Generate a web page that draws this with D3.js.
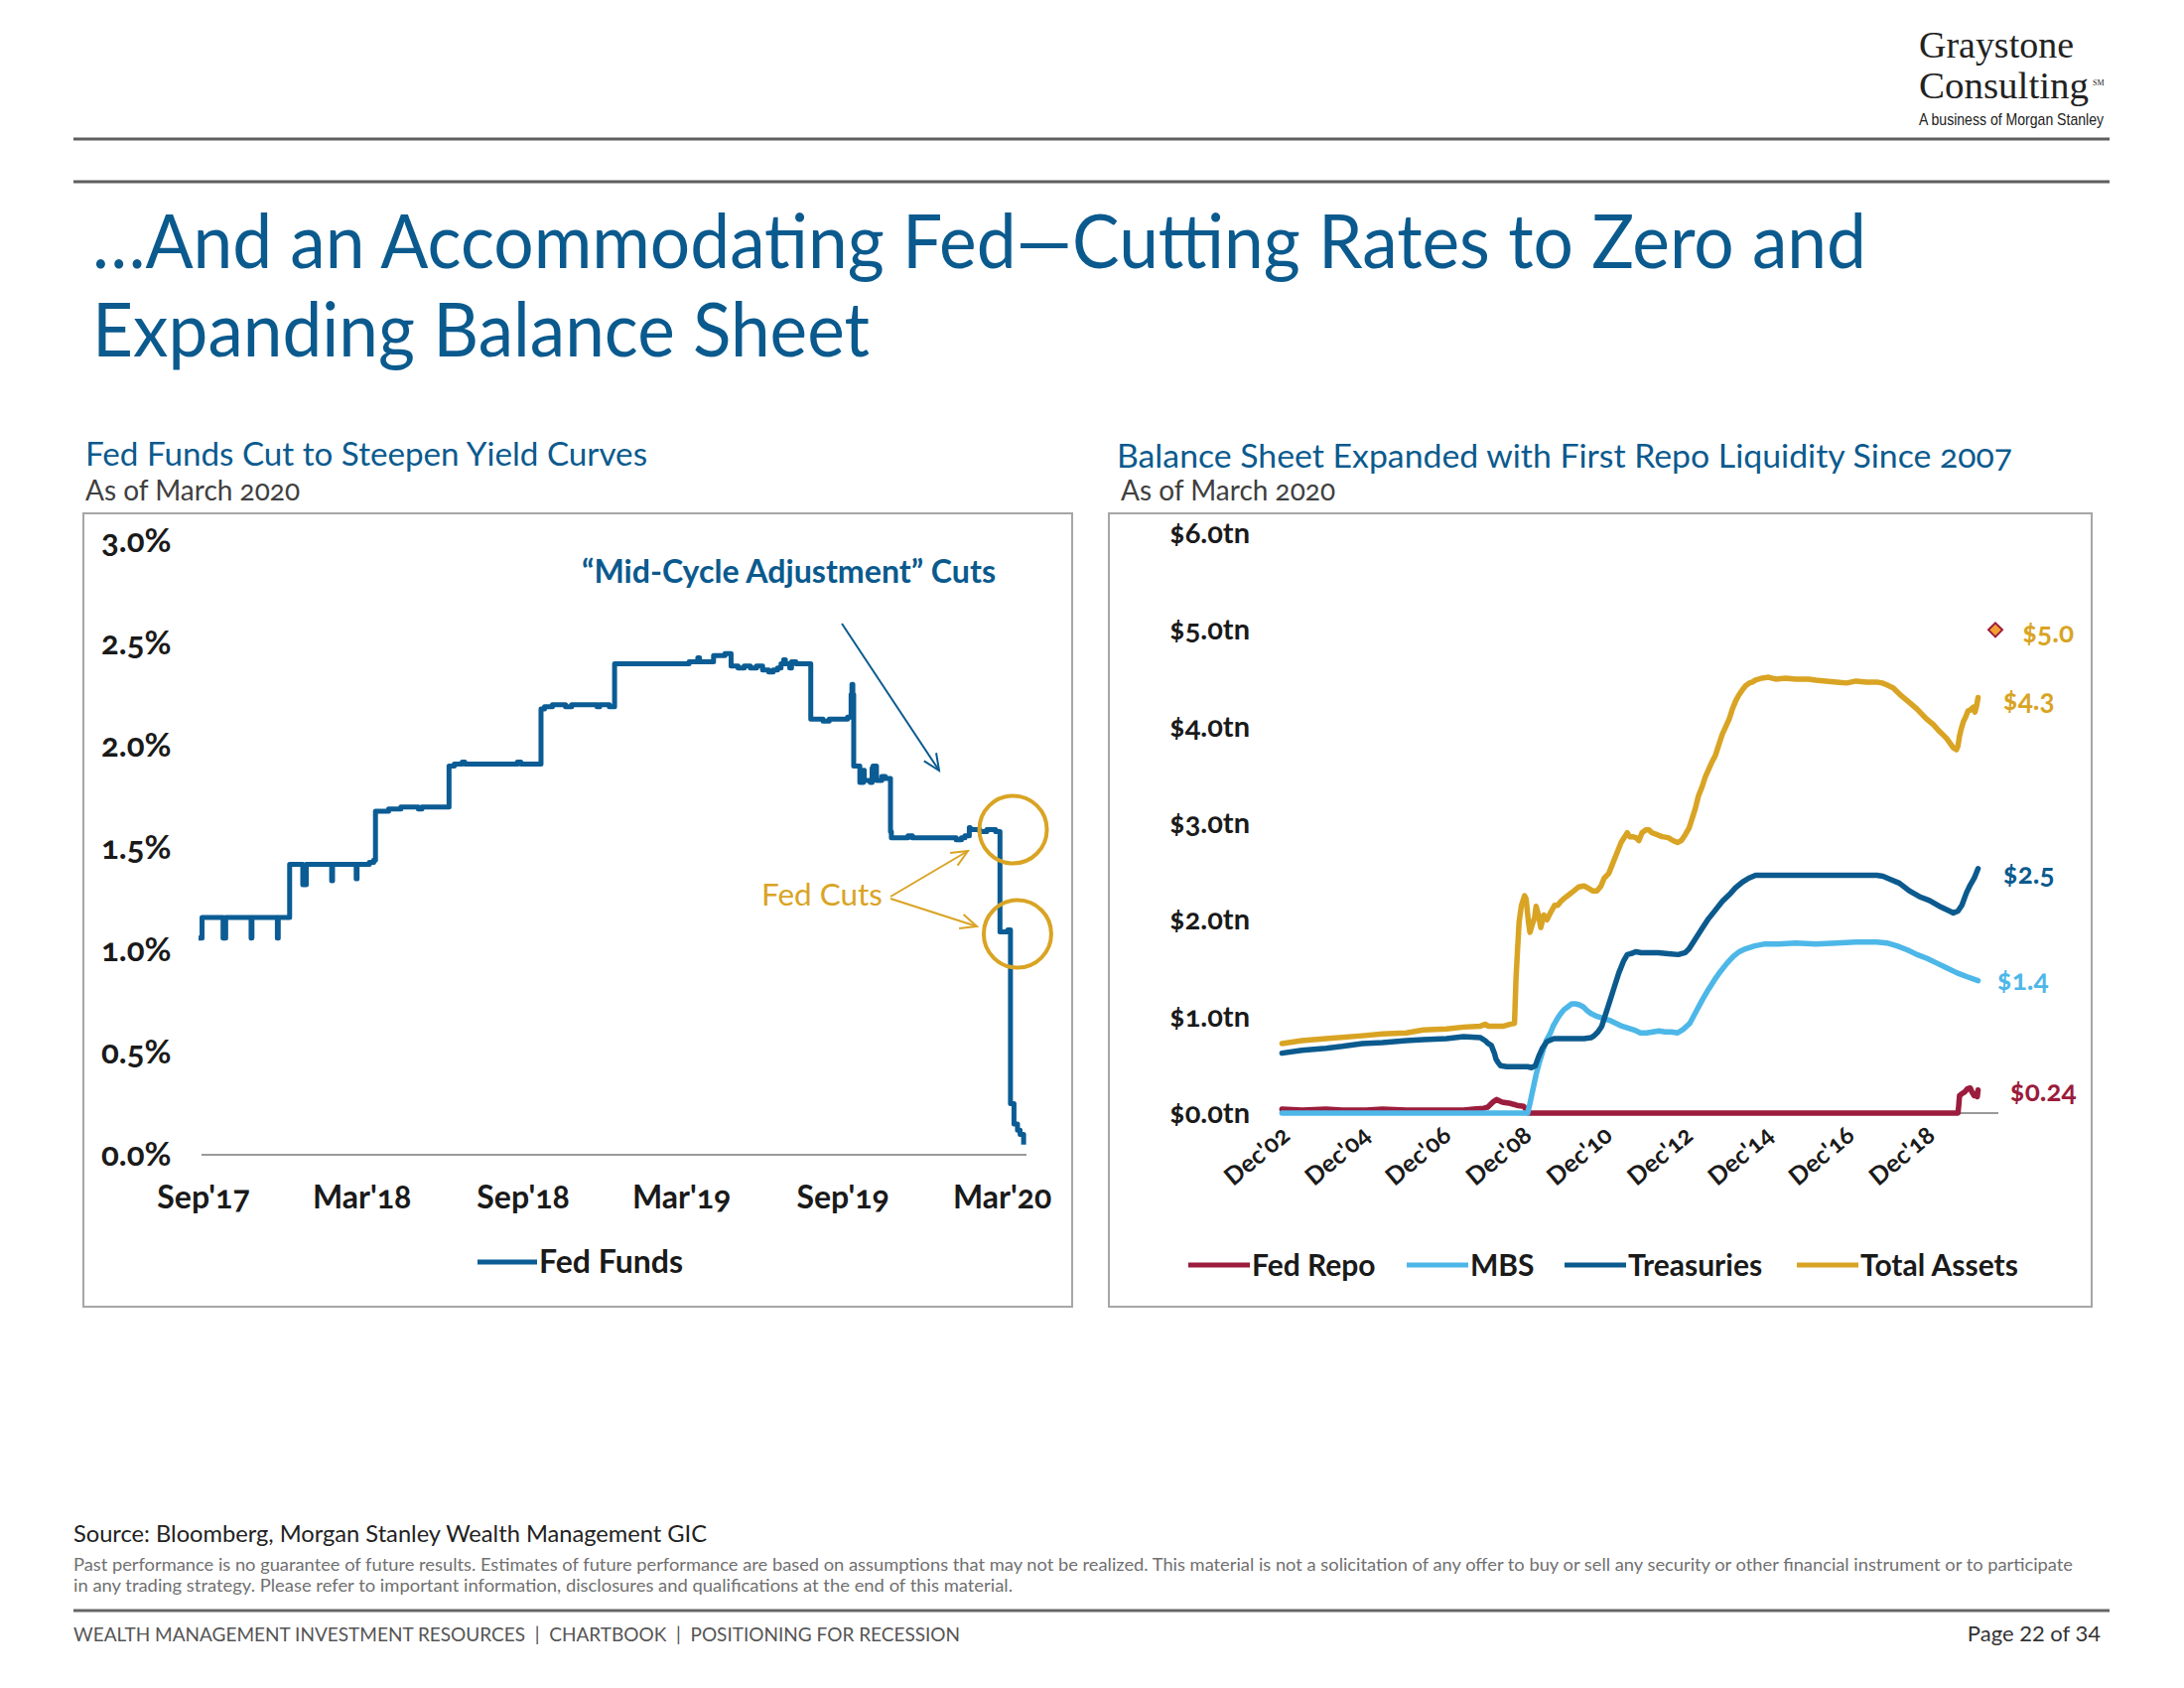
<!DOCTYPE html>
<html>
<head>
<meta charset="utf-8">
<script src="https://cdn.jsdelivr.net/npm/d3@7"></script>
<style>
  body { margin: 0; background: #fff; }
  svg text { font-family: Lato, "Open Sans", sans-serif; }
  .onum { font-variant-numeric: oldstyle-nums; }
</style>
</head>
<body>
<div id="chart"></div>
<script>
/* Fed funds + Fed balance sheet slide, drawn with D3 */

// ---- data ----
var fedFunds = [
  ["2017-09-01", 1.06], ["2017-09-05", 1.16], ["2017-09-29", 1.06], ["2017-10-02", 1.16],
  ["2017-10-31", 1.06], ["2017-11-01", 1.16], ["2017-11-30", 1.06], ["2017-12-01", 1.16],
  ["2017-12-14", 1.42], ["2017-12-29", 1.32], ["2018-01-02", 1.42], ["2018-01-31", 1.34],
  ["2018-02-01", 1.42], ["2018-02-28", 1.35], ["2018-03-01", 1.42], ["2018-03-15", 1.43],
  ["2018-03-20", 1.44], ["2018-03-22", 1.68], ["2018-04-06", 1.69], ["2018-04-20", 1.70],
  ["2018-05-10", 1.69], ["2018-05-14", 1.70], ["2018-06-14", 1.90], ["2018-06-20", 1.91],
  ["2018-06-29", 1.92], ["2018-07-02", 1.91], ["2018-08-31", 1.92], ["2018-09-04", 1.91],
  ["2018-09-27", 2.18], ["2018-10-01", 2.19], ["2018-10-10", 2.20], ["2018-10-25", 2.19],
  ["2018-11-01", 2.20], ["2018-11-30", 2.19], ["2018-12-03", 2.20], ["2018-12-14", 2.19],
  ["2018-12-20", 2.40], ["2019-03-15", 2.41], ["2019-03-25", 2.43], ["2019-03-27", 2.41],
  ["2019-04-12", 2.44], ["2019-04-25", 2.45], ["2019-05-02", 2.39], ["2019-05-10", 2.38],
  ["2019-05-17", 2.39], ["2019-05-24", 2.38], ["2019-05-31", 2.39], ["2019-06-07", 2.37],
  ["2019-06-14", 2.36], ["2019-06-19", 2.37], ["2019-06-24", 2.38], ["2019-06-28", 2.40],
  ["2019-07-01", 2.42], ["2019-07-03", 2.40], ["2019-07-08", 2.38], ["2019-07-10", 2.41],
  ["2019-07-15", 2.40], ["2019-08-01", 2.13], ["2019-08-15", 2.12], ["2019-08-22", 2.13],
  ["2019-09-12", 2.14], ["2019-09-16", 2.25], ["2019-09-17", 2.30], ["2019-09-18", 2.25],
  ["2019-09-19", 1.90], ["2019-09-26", 1.82], ["2019-09-30", 1.88], ["2019-10-01", 1.83],
  ["2019-10-08", 1.82], ["2019-10-10", 1.89], ["2019-10-11", 1.90], ["2019-10-15", 1.83],
  ["2019-10-21", 1.85], ["2019-10-25", 1.84], ["2019-10-31", 1.58], ["2019-11-01", 1.55],
  ["2019-11-20", 1.56], ["2019-11-25", 1.55], ["2020-01-14", 1.54], ["2020-01-20", 1.55],
  ["2020-01-24", 1.56], ["2020-01-29", 1.60], ["2020-01-30", 1.59], ["2020-02-10", 1.58],
  ["2020-02-18", 1.59], ["2020-02-28", 1.58], ["2020-03-04", 1.09], ["2020-03-13", 1.10],
  ["2020-03-16", 0.25], ["2020-03-20", 0.15], ["2020-03-24", 0.12], ["2020-03-27", 0.10],
  ["2020-03-31", 0.05]
];
var fedFundsTicks = ["2017-09-01", "2018-03-01", "2018-09-01", "2019-03-01", "2019-09-01", "2020-03-01"];
var fedFundsTickLabels = ["Sep'17", "Mar'18", "Sep'18", "Mar'19", "Sep'19", "Mar'20"];
var rateTicks = [0, 0.5, 1.0, 1.5, 2.0, 2.5, 3.0];

var totalAssets = [
  ["2002-12-04", 0.72], ["2003-06-04", 0.75], ["2004-01-07", 0.77], ["2004-12-01", 0.80],
  ["2005-06-01", 0.82], ["2006-01-04", 0.83], ["2006-06-07", 0.86], ["2007-01-03", 0.87],
  ["2007-06-06", 0.89], ["2007-11-07", 0.90], ["2007-12-19", 0.92], ["2008-01-16", 0.90],
  ["2008-06-04", 0.90], ["2008-08-06", 0.92], ["2008-09-10", 0.93], ["2008-09-24", 1.40],
  ["2008-10-08", 1.70], ["2008-10-22", 1.98], ["2008-11-12", 2.15], ["2008-12-10", 2.25],
  ["2008-12-24", 2.22], ["2009-01-14", 1.98], ["2009-01-28", 1.87], ["2009-02-18", 1.95],
  ["2009-03-11", 2.02], ["2009-03-25", 2.14], ["2009-04-15", 2.05], ["2009-05-06", 1.92],
  ["2009-06-03", 2.05], ["2009-07-01", 2.00], ["2009-08-05", 2.08], ["2009-09-09", 2.15],
  ["2009-10-07", 2.15], ["2009-11-04", 2.19], ["2009-12-02", 2.22], ["2010-01-06", 2.25],
  ["2010-03-03", 2.30], ["2010-04-14", 2.34], ["2010-06-02", 2.35], ["2010-07-07", 2.33],
  ["2010-08-18", 2.30], ["2010-09-29", 2.30], ["2010-11-03", 2.35], ["2010-12-01", 2.43],
  ["2011-01-12", 2.48], ["2011-02-16", 2.58], ["2011-03-30", 2.70], ["2011-05-04", 2.80],
  ["2011-06-01", 2.85], ["2011-06-29", 2.90], ["2011-07-20", 2.86], ["2011-08-17", 2.86],
  ["2011-09-14", 2.85], ["2011-10-12", 2.82], ["2011-11-09", 2.90], ["2011-12-14", 2.93],
  ["2012-01-11", 2.93], ["2012-02-08", 2.90], ["2012-03-28", 2.88], ["2012-05-09", 2.86],
  ["2012-07-04", 2.85], ["2012-08-15", 2.82], ["2012-09-26", 2.80], ["2012-10-31", 2.82],
  ["2012-12-05", 2.88], ["2013-01-09", 2.95], ["2013-02-06", 3.05], ["2013-03-06", 3.15],
  ["2013-04-03", 3.28], ["2013-05-08", 3.38], ["2013-06-05", 3.48], ["2013-07-03", 3.55],
  ["2013-08-07", 3.64], ["2013-09-04", 3.70], ["2013-10-02", 3.80], ["2013-11-06", 3.92],
  ["2013-12-04", 3.99], ["2014-01-08", 4.08], ["2014-02-05", 4.18], ["2014-03-05", 4.26],
  ["2014-04-02", 4.32], ["2014-05-07", 4.38], ["2014-06-04", 4.42], ["2014-07-09", 4.45],
  ["2014-08-06", 4.46], ["2014-09-03", 4.48], ["2014-10-29", 4.50], ["2014-12-31", 4.51],
  ["2015-03-04", 4.49], ["2015-06-03", 4.50], ["2015-09-02", 4.49], ["2015-12-30", 4.49],
  ["2016-03-02", 4.48], ["2016-06-01", 4.47], ["2016-09-07", 4.46], ["2016-12-07", 4.45],
  ["2017-03-01", 4.47], ["2017-06-07", 4.46], ["2017-09-06", 4.46], ["2017-10-25", 4.45],
  ["2017-12-06", 4.43], ["2018-01-31", 4.40], ["2018-04-04", 4.33], ["2018-06-27", 4.25],
  ["2018-09-05", 4.18], ["2018-11-28", 4.08], ["2019-01-30", 4.02], ["2019-03-27", 3.95],
  ["2019-05-29", 3.88], ["2019-07-31", 3.78], ["2019-08-28", 3.76], ["2019-09-11", 3.80],
  ["2019-09-25", 3.90], ["2019-10-09", 3.97], ["2019-10-30", 4.05], ["2019-11-20", 4.10],
  ["2019-12-11", 4.16], ["2019-12-31", 4.17], ["2020-01-08", 4.18], ["2020-01-29", 4.20],
  ["2020-02-12", 4.15], ["2020-02-26", 4.21], ["2020-03-11", 4.30]
];
var treasuries = [
  ["2002-12-04", 0.62], ["2003-06-04", 0.65], ["2004-01-07", 0.67], ["2004-06-02", 0.69],
  ["2004-12-01", 0.72], ["2005-06-01", 0.73], ["2006-01-04", 0.75], ["2006-06-07", 0.76],
  ["2007-01-03", 0.77], ["2007-06-06", 0.79], ["2007-11-07", 0.78], ["2007-12-19", 0.75],
  ["2008-01-16", 0.72], ["2008-02-13", 0.70], ["2008-03-12", 0.62], ["2008-03-26", 0.56],
  ["2008-04-16", 0.52], ["2008-05-07", 0.49], ["2008-07-02", 0.48], ["2008-10-01", 0.48],
  ["2009-01-07", 0.48], ["2009-02-11", 0.47], ["2009-03-18", 0.49], ["2009-04-15", 0.58],
  ["2009-05-20", 0.67], ["2009-07-01", 0.74], ["2009-09-02", 0.77], ["2010-03-03", 0.77],
  ["2010-06-02", 0.77], ["2010-08-04", 0.78], ["2010-09-01", 0.80], ["2010-10-06", 0.84],
  ["2010-11-10", 0.90], ["2010-12-08", 1.00], ["2011-01-19", 1.15], ["2011-03-02", 1.30],
  ["2011-04-13", 1.45], ["2011-05-25", 1.57], ["2011-06-29", 1.64], ["2011-08-03", 1.65],
  ["2011-09-14", 1.67], ["2011-11-02", 1.66], ["2012-01-04", 1.66], ["2012-04-04", 1.66],
  ["2012-07-04", 1.65], ["2012-10-03", 1.64], ["2012-12-05", 1.66], ["2013-01-09", 1.70],
  ["2013-03-06", 1.80], ["2013-05-01", 1.90], ["2013-07-03", 2.01], ["2013-09-04", 2.10],
  ["2013-11-06", 2.19], ["2014-01-08", 2.26], ["2014-03-05", 2.33], ["2014-05-07", 2.39],
  ["2014-07-02", 2.43], ["2014-09-03", 2.46], ["2015-03-04", 2.46], ["2015-09-02", 2.46],
  ["2016-03-02", 2.46], ["2016-09-07", 2.46], ["2017-03-01", 2.46], ["2017-09-06", 2.46],
  ["2017-11-01", 2.45], ["2018-01-03", 2.42], ["2018-03-28", 2.38], ["2018-06-27", 2.30],
  ["2018-09-26", 2.24], ["2018-12-26", 2.20], ["2019-03-27", 2.14], ["2019-06-26", 2.09],
  ["2019-07-31", 2.07], ["2019-09-11", 2.09], ["2019-10-16", 2.15], ["2019-11-27", 2.28],
  ["2019-12-31", 2.36], ["2020-02-05", 2.43], ["2020-03-11", 2.53]
];
var mbs = [
  ["2002-12-04", 0.00], ["2009-01-07", 0.00], ["2009-01-28", 0.10], ["2009-02-25", 0.25],
  ["2009-03-25", 0.40], ["2009-04-22", 0.52], ["2009-05-27", 0.65], ["2009-06-24", 0.75],
  ["2009-07-29", 0.82], ["2009-08-26", 0.90], ["2009-09-30", 0.97], ["2009-10-28", 1.02],
  ["2009-12-02", 1.07], ["2010-01-06", 1.10], ["2010-02-10", 1.13], ["2010-03-17", 1.13],
  ["2010-04-21", 1.12], ["2010-05-26", 1.10], ["2010-06-30", 1.06], ["2010-08-04", 1.03],
  ["2010-09-29", 1.00], ["2010-11-24", 0.98], ["2011-01-19", 0.96], ["2011-03-16", 0.93],
  ["2011-05-11", 0.90], ["2011-07-06", 0.88], ["2011-08-31", 0.86], ["2011-10-26", 0.83],
  ["2011-12-21", 0.83], ["2012-02-15", 0.84], ["2012-04-11", 0.85], ["2012-06-06", 0.84],
  ["2012-08-01", 0.84], ["2012-09-26", 0.83], ["2012-11-21", 0.87], ["2013-01-16", 0.93],
  ["2013-03-13", 1.05], ["2013-05-08", 1.17], ["2013-07-03", 1.28], ["2013-08-28", 1.38],
  ["2013-10-23", 1.47], ["2013-12-18", 1.55], ["2014-02-12", 1.62], ["2014-04-09", 1.67],
  ["2014-06-04", 1.70], ["2014-08-27", 1.73], ["2014-11-26", 1.75], ["2015-04-01", 1.75],
  ["2015-09-02", 1.76], ["2016-03-02", 1.75], ["2016-09-07", 1.76], ["2017-03-01", 1.77],
  ["2017-09-06", 1.77], ["2017-12-06", 1.76], ["2018-03-07", 1.73], ["2018-06-06", 1.69],
  ["2018-09-05", 1.64], ["2018-12-05", 1.60], ["2019-03-06", 1.55], ["2019-06-05", 1.50],
  ["2019-09-04", 1.45], ["2019-12-04", 1.41], ["2020-03-11", 1.37]
];
var fedRepo = [
  ["2002-12-04", 0.04], ["2003-06-04", 0.03], ["2004-01-07", 0.04], ["2004-06-02", 0.03],
  ["2005-01-05", 0.03], ["2005-06-01", 0.04], ["2006-01-04", 0.03], ["2006-06-07", 0.03],
  ["2007-01-03", 0.03], ["2007-06-06", 0.03], ["2007-09-05", 0.04], ["2007-12-05", 0.05],
  ["2008-01-09", 0.06], ["2008-02-06", 0.09], ["2008-03-05", 0.12], ["2008-04-02", 0.14],
  ["2008-05-07", 0.12], ["2008-06-04", 0.11], ["2008-08-06", 0.10], ["2008-10-01", 0.08],
  ["2008-12-03", 0.07], ["2009-01-14", 0.00], ["2019-09-11", 0.00], ["2019-09-18", 0.08],
  ["2019-09-25", 0.18], ["2019-10-16", 0.20], ["2019-11-13", 0.22], ["2019-12-04", 0.25],
  ["2019-12-31", 0.26], ["2020-01-15", 0.22], ["2020-02-05", 0.18], ["2020-02-19", 0.20],
  ["2020-03-04", 0.17], ["2020-03-11", 0.24]
];
var balanceTicks = [0, 1, 2, 3, 4, 5, 6];
var balanceDateTicks = ["2002-12-01", "2004-12-01", "2006-12-01", "2008-12-01", "2010-12-01",
  "2012-12-01", "2014-12-01", "2016-12-01", "2018-12-01"];
var balanceDateLabels = ["Dec'02", "Dec'04", "Dec'06", "Dec'08", "Dec'10", "Dec'12", "Dec'14", "Dec'16", "Dec'18"];
var balanceSeries = ["Fed Repo", "MBS", "Treasuries", "Total Assets"];
var balanceEndLabels = ["$0.24", "$1.4", "$2.5", "$4.3"];
var projectedTotal = ["2020-08-15", 5.0];

var BLUE = '#0b5a8e', GOLD = '#d9a424', LIGHT = '#4db7e8', MAROON = '#9b1c3c';
var seriesColors = [MAROON, LIGHT, BLUE, GOLD];

var parse = d3.timeParse('%Y-%m-%d');

var svg = d3.select('#chart').append('svg')
  .attr('width', 2200).attr('height', 1700);

// squeeze a text to a width if it runs long
function fit(sel, w) {
  sel.each(function() {
    if (this.getComputedTextLength() > w) {
      d3.select(this).attr('textLength', w).attr('lengthAdjust', 'spacingAndGlyphs');
    }
  });
  return sel;
}
// set a text to an exact width
function span(sel, w) {
  return sel.attr('textLength', w).attr('lengthAdjust', 'spacingAndGlyphs');
}

/* ---- page header ---- */
span(svg.append('text').attr('x', 1933).attr('y', 58).text('Graystone')
  .style('font-family', '"Liberation Serif", serif').attr('font-size', 37).attr('fill', '#222'), 156);
span(svg.append('text').attr('x', 1933).attr('y', 99).text('Consulting')
  .style('font-family', '"Liberation Serif", serif').attr('font-size', 37).attr('fill', '#222'), 171);
svg.append('text').attr('x', 2108).attr('y', 86).text('SM')
  .style('font-family', '"Liberation Serif", serif').attr('font-size', 8).attr('fill', '#222');
span(svg.append('text').attr('x', 1933).attr('y', 126).text('A business of Morgan Stanley')
  .style('font-family', '"Liberation Sans", sans-serif').attr('font-size', 17).attr('fill', '#222'), 186);

[140, 183].forEach(function(y) {
  svg.append('line').attr('x1', 74).attr('x2', 2125).attr('y1', y).attr('y2', y)
    .attr('stroke', '#5f5f5f').attr('stroke-width', 3);
});

fit(svg.append('text').attr('x', 93).attr('y', 270)
  .text('\u2026And an Accommodating Fed\u2014Cutting Rates to Zero and')
  .attr('font-size', 76).attr('fill', BLUE), 1787);
fit(svg.append('text').attr('x', 93).attr('y', 359).text('Expanding Balance Sheet')
  .attr('font-size', 76).attr('fill', BLUE), 783);

/* ---- left chart: fed funds ---- */
span(svg.append('text').attr('x', 86).attr('y', 469).text('Fed Funds Cut to Steepen Yield Curves')
  .attr('font-size', 33).attr('fill', BLUE), 566);
svg.append('text').attr('x', 86).attr('y', 504).text('As of March 2020')
  .attr('class', 'onum').attr('font-size', 28).attr('fill', '#404040');
svg.append('rect').attr('x', 84).attr('y', 517).attr('width', 996).attr('height', 799)
  .attr('fill', 'none').attr('stroke', '#a6a6a6').attr('stroke-width', 2);

var xL = d3.scaleTime().domain([parse('2017-09-01'), parse('2020-04-01')]).range([200, 1032]);
var yL = d3.scaleLinear().domain([0, 3]).range([1163, 545]);

var gL = svg.append('g');
gL.selectAll('.ytick').data(rateTicks).enter().append('text')
  .attr('class', 'onum').attr('x', 102).attr('y', function(d) { return yL(d) + 11; })
  .attr('font-size', 33).attr('font-weight', 700).attr('fill', '#1a1a1a')
  .text(function(d) { return d.toFixed(1) + '%'; });

gL.append('line').attr('x1', 203).attr('x2', 1034).attr('y1', yL(0)).attr('y2', yL(0))
  .attr('stroke', '#9a9a9a').attr('stroke-width', 2);

gL.selectAll('.xtick').data(fedFundsTicks).enter().append('text')
  .attr('class', 'onum').attr('x', function(d) { return xL(parse(d)) + 5; }).attr('y', 1217)
  .attr('text-anchor', 'middle').attr('font-size', 32).attr('font-weight', 700).attr('fill', '#1a1a1a')
  .text(function(d, i) { return fedFundsTickLabels[i]; });

var lineL = d3.line().curve(d3.curveStepAfter)
  .x(function(d) { return xL(parse(d[0])); })
  .y(function(d) { return yL(d[1]); });
gL.append('path').datum(fedFunds).attr('d', lineL).attr('fill', 'none')
  .attr('stroke', '#0b5c94').attr('stroke-width', 5).attr('stroke-linejoin', 'round');

function arrow(g, x1, y1, x2, y2, color, w) {
  g.append('line').attr('x1', x1).attr('y1', y1).attr('x2', x2).attr('y2', y2)
    .attr('stroke', color).attr('stroke-width', w);
  var a = Math.atan2(y2 - y1, x2 - x1), L = 18, s = 0.42;
  g.append('path')
    .attr('d', 'M' + (x2 - L * Math.cos(a - s)) + ',' + (y2 - L * Math.sin(a - s))
      + 'L' + x2 + ',' + y2
      + 'L' + (x2 - L * Math.cos(a + s)) + ',' + (y2 - L * Math.sin(a + s)))
    .attr('fill', 'none').attr('stroke', color).attr('stroke-width', w);
}

span(gL.append('text').attr('x', 586).attr('y', 587).text('\u201cMid-Cycle Adjustment\u201d Cuts')
  .attr('font-size', 32).attr('font-weight', 700).attr('fill', BLUE), 417);
arrow(gL, 848, 628, 946, 776, BLUE, 2);

span(gL.append('text').attr('x', 767).attr('y', 912).text('Fed Cuts')
  .attr('font-size', 31).attr('fill', GOLD), 122);
arrow(gL, 897, 903, 975, 857, GOLD, 2);
arrow(gL, 897, 905, 984, 933, GOLD, 2);
gL.append('circle').attr('cx', xL(parse('2020-03-19'))).attr('cy', yL(1.59)).attr('r', 34)
  .attr('fill', 'none').attr('stroke', GOLD).attr('stroke-width', 4);
gL.append('circle').attr('cx', xL(parse('2020-03-24'))).attr('cy', yL(1.08)).attr('r', 34)
  .attr('fill', 'none').attr('stroke', GOLD).attr('stroke-width', 4);

gL.append('line').attr('x1', 481).attr('x2', 541).attr('y1', 1271).attr('y2', 1271)
  .attr('stroke', '#0b5c94').attr('stroke-width', 5);
gL.append('text').attr('x', 543).attr('y', 1282).text('Fed Funds')
  .attr('font-size', 32).attr('font-weight', 700).attr('fill', '#1a1a1a');

/* ---- right chart: balance sheet ---- */
span(svg.append('text').attr('x', 1125).attr('y', 471)
  .text('Balance Sheet Expanded with First Repo Liquidity Since 2007')
  .attr('class', 'onum').attr('font-size', 33).attr('fill', BLUE), 902);
svg.append('text').attr('x', 1129).attr('y', 504).text('As of March 2020')
  .attr('class', 'onum').attr('font-size', 28).attr('fill', '#404040');
svg.append('rect').attr('x', 1117).attr('y', 517).attr('width', 990).attr('height', 799)
  .attr('fill', 'none').attr('stroke', '#a6a6a6').attr('stroke-width', 2);

var xR = d3.scaleTime().domain([parse('2002-12-01'), parse('2020-03-15')]).range([1291, 1993]);
var yR = d3.scaleLinear().domain([0, 6]).range([1121, 537]);

var gR = svg.append('g');
gR.selectAll('.ytick').data(balanceTicks).enter().append('text')
  .attr('class', 'onum').attr('x', 1178).attr('y', function(d) { return yR(d) + 10; })
  .attr('font-size', 29).attr('font-weight', 700).attr('fill', '#1a1a1a')
  .text(function(d) { return '$' + d.toFixed(1) + 'tn'; });

gR.append('line').attr('x1', 1291).attr('x2', 2013).attr('y1', yR(0)).attr('y2', yR(0))
  .attr('stroke', '#9a9a9a').attr('stroke-width', 2);

gR.selectAll('.xtick').data(balanceDateTicks).enter().append('text')
  .attr('class', 'onum')
  .attr('transform', function(d) { return 'translate(' + (xR(parse(d)) + 10) + ',1146) rotate(-40)'; })
  .attr('text-anchor', 'end').attr('font-size', 25).attr('font-weight', 700).attr('fill', '#1a1a1a')
  .text(function(d, i) { return balanceDateLabels[i]; });

var lineR = d3.line()
  .x(function(d) { return xR(parse(d[0])); })
  .y(function(d) { return yR(d[1]); });
[fedRepo, mbs, treasuries, totalAssets].forEach(function(s, i) {
  gR.append('path').datum(s).attr('d', lineR).attr('fill', 'none')
    .attr('stroke', seriesColors[i]).attr('stroke-width', 5.5)
    .attr('stroke-linejoin', 'round').attr('stroke-linecap', 'round');
});

// end-of-series labels
var endData = [fedRepo, mbs, treasuries, totalAssets];
var endDx = [32, 19, 25, 25], endDy = [1, -1, 5, 3];
endData.forEach(function(s, i) {
  var last = s[s.length - 1];
  gR.append('text').attr('class', 'onum')
    .attr('x', xR(parse(last[0])) + endDx[i])
    .attr('y', yR(last[1]) + endDy[i] + 10)
    .attr('font-size', 28).attr('font-weight', 700).attr('fill', seriesColors[i])
    .text(balanceEndLabels[i]);
});
var px = xR(parse(projectedTotal[0])), py = yR(projectedTotal[1]);
gR.append('path')
  .attr('d', 'M' + px + ',' + (py - 7) + 'L' + (px + 7) + ',' + py + 'L' + px + ',' + (py + 7) + 'L' + (px - 7) + ',' + py + 'Z')
  .attr('fill', '#f2a033').attr('stroke', MAROON).attr('stroke-width', 2);
gR.append('text').attr('class', 'onum').attr('x', px + 27).attr('y', py + 13)
  .attr('font-size', 28).attr('font-weight', 700).attr('fill', GOLD).text('$5.0');

// legend
var legendX = [1197, 1417, 1576, 1810];
balanceSeries.forEach(function(name, i) {
  gR.append('line').attr('x1', legendX[i]).attr('x2', legendX[i] + 62)
    .attr('y1', 1274).attr('y2', 1274).attr('stroke', seriesColors[i]).attr('stroke-width', 5);
  gR.append('text').attr('x', legendX[i] + 64).attr('y', 1285).text(name)
    .attr('font-size', 30).attr('font-weight', 700).attr('fill', '#1a1a1a');
});

/* ---- footer ---- */
span(svg.append('text').attr('x', 74).attr('y', 1553)
  .text('Source: Bloomberg, Morgan Stanley Wealth Management GIC')
  .attr('font-size', 23.5).attr('fill', '#222'), 638);
span(svg.append('text').attr('x', 74).attr('y', 1582)
  .text('Past performance is no guarantee of future results. Estimates of future performance are based on assumptions that may not be realized. This material is not a solicitation of any offer to buy or sell any security or other financial instrument or to participate')
  .attr('font-size', 18).attr('fill', '#707070'), 2014);
span(svg.append('text').attr('x', 74).attr('y', 1603)
  .text('in any trading strategy. Please refer to important information, disclosures and qualifications at the end of this material.')
  .attr('font-size', 18).attr('fill', '#707070'), 946);
svg.append('line').attr('x1', 74).attr('x2', 2125).attr('y1', 1622).attr('y2', 1622)
  .attr('stroke', '#666').attr('stroke-width', 3);
fit(svg.append('text').attr('x', 74).attr('y', 1653)
  .text('WEALTH MANAGEMENT INVESTMENT RESOURCES  |  CHARTBOOK  |  POSITIONING FOR RECESSION')
  .style('white-space', 'pre').attr('font-size', 19).attr('fill', '#555'), 896);
svg.append('text').attr('x', 2116).attr('y', 1653).attr('text-anchor', 'end')
  .text('Page 22 of 34').attr('font-size', 22).attr('fill', '#333');
</script>
</body>
</html>
